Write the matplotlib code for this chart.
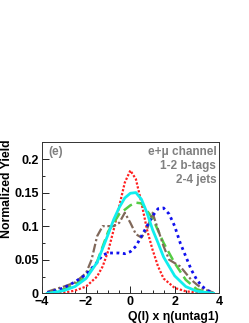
import matplotlib
matplotlib.use("Agg")
import matplotlib.pyplot as plt
from matplotlib.ticker import MultipleLocator, FixedFormatter, FixedLocator

plt.rcParams['font.family'] = ['Liberation Sans', 'DejaVu Sans']

# values
x_red = [-3.75, -3.0, -2.5, -2.0, -1.5, -1.25, -1.0, -0.75, -0.5, -0.25, 0.0, 0.25, 0.5, 0.75, 1.0, 1.25, 1.5, 2.0, 2.5, 3.0, 3.75]
y_red = [0.0, 0.001, 0.004, 0.01, 0.025, 0.04, 0.063, 0.095, 0.13, 0.165, 0.183, 0.17, 0.135, 0.095, 0.065, 0.04, 0.022, 0.008, 0.003, 0.001, 0.0]

x_cyan = [-3.75, -3.5, -3.0, -2.5, -2.0, -1.5, -1.0, -0.75, -0.5, -0.25, 0.0, 0.25, 0.5, 0.75, 1.0, 1.25, 1.5, 2.0, 2.5, 3.0, 3.5, 3.75]
y_cyan = [0.0, 0.001, 0.004, 0.01, 0.022, 0.046, 0.088, 0.11, 0.128, 0.142, 0.149, 0.150, 0.14, 0.12, 0.095, 0.075, 0.054, 0.026, 0.01, 0.003, 0.001, 0.0]

x_green = [-3.75, -3.5, -3.0, -2.5, -2.0, -1.5, -1.0, -0.5, 0.0, 0.25, 0.5, 1.0, 1.5, 2.0, 2.5, 3.0, 3.5, 3.75]
y_green = [0.0, 0.002, 0.006, 0.013, 0.025, 0.047, 0.092, 0.118, 0.131, 0.135, 0.134, 0.112, 0.075, 0.045, 0.02, 0.006, 0.001, 0.0]

x_brown = [-3.75, -3.5, -3.0, -2.5, -2.0, -1.75, -1.5, -1.25, -1.0, -0.75, -0.5, -0.25, 0.0, 0.25, 0.5, 0.75, 1.0, 1.25, 1.5, 1.75, 2.0, 2.25, 2.5, 2.75, 3.0, 3.25, 3.5, 3.75]
y_brown = [0.002, 0.005, 0.01, 0.016, 0.03, 0.05, 0.085, 0.1, 0.1, 0.1, 0.105, 0.12, 0.105, 0.088, 0.083, 0.095, 0.12, 0.095, 0.07, 0.05, 0.045, 0.04, 0.03, 0.02, 0.013, 0.007, 0.004, 0.001]

x_blue = [-3.75, -3.5, -3.0, -2.5, -2.0, -1.5, -1.25, -1.0, -0.5, -0.25, 0.0, 0.25, 0.5, 0.75, 1.0, 1.25, 1.5, 1.75, 2.0, 2.25, 2.5, 2.75, 3.0, 3.25, 3.5, 3.75]
y_blue = [0.001, 0.003, 0.008, 0.017, 0.028, 0.046, 0.057, 0.06, 0.06, 0.059, 0.062, 0.07, 0.085, 0.1, 0.115, 0.126, 0.127, 0.118, 0.1, 0.075, 0.055, 0.035, 0.02, 0.01, 0.004, 0.001]

labels = ["e+\u03bc channel", "1-2 b-tags", "2-4 jets"]

fig = plt.figure(figsize=(2.49, 3.23), dpi=100)
ax = fig.add_axes([0.1675, 0.092, 0.712, 0.4693])

ax.plot(x_red, y_red, color="#ff2020", lw=1.6, ls=(0, (1, 0.8)), zorder=3)
ax.plot(x_green, y_green, color="#55cc44", lw=1.8, ls=(0, (4, 2)), zorder=3)
ax.plot(x_brown, y_brown, color="#80685a", lw=1.6, ls=(0, (4, 1.2, 1, 1.2)), zorder=3)
ax.plot(x_blue, y_blue, color="#1010ee", lw=2.0, ls=(0, (1, 1.3)), zorder=4)
ax.plot(x_cyan, y_cyan, color="#10eeee", lw=2.0, zorder=5)

ax.set_xlim(-4, 4)
ax.set_ylim(0, 0.2258)
ax.xaxis.set_major_locator(MultipleLocator(2))
ax.xaxis.set_minor_locator(MultipleLocator(0.5))
ax.yaxis.set_major_locator(FixedLocator([0, 0.05, 0.1, 0.15, 0.2]))
ax.yaxis.set_major_formatter(FixedFormatter(["0", "0.05", "0.1", "0.15", "0.2"]))
ax.yaxis.set_minor_locator(MultipleLocator(0.025))
ax.tick_params(which="both", direction="in", top=False, right=False,
               labelsize=9, width=0.6, pad=2)
ax.tick_params(which="major", length=5)
ax.tick_params(which="minor", length=2.5)
for lab in ax.get_xticklabels() + ax.get_yticklabels():
    lab.set_fontweight("bold")
for sp in ax.spines.values():
    sp.set_linewidth(0.7)
    sp.set_color("#333333")

fig.text(7.5 / 249, 1 - 189 / 323, "Normalized Yield", rotation=90, fontsize=8.8,
         fontweight="bold", ha="center", va="center")
ax.set_xlabel("Q(l) x \u03b7(untag1)", fontsize=8.8, fontweight="bold", ha="right")
ax.xaxis.set_label_coords(1.0, -0.12)

ax.text(0.04, 0.97, "(e)", transform=ax.transAxes, fontsize=8.5, fontweight="bold",
        color="#808080", va="top", ha="left")
for i, t in enumerate(labels):
    ax.text(0.985, 0.97 - i * 0.092, t, transform=ax.transAxes, fontsize=8.5,
            fontweight="bold", color="#808080", va="top", ha="right")

fig.savefig("out.png", dpi=100)
